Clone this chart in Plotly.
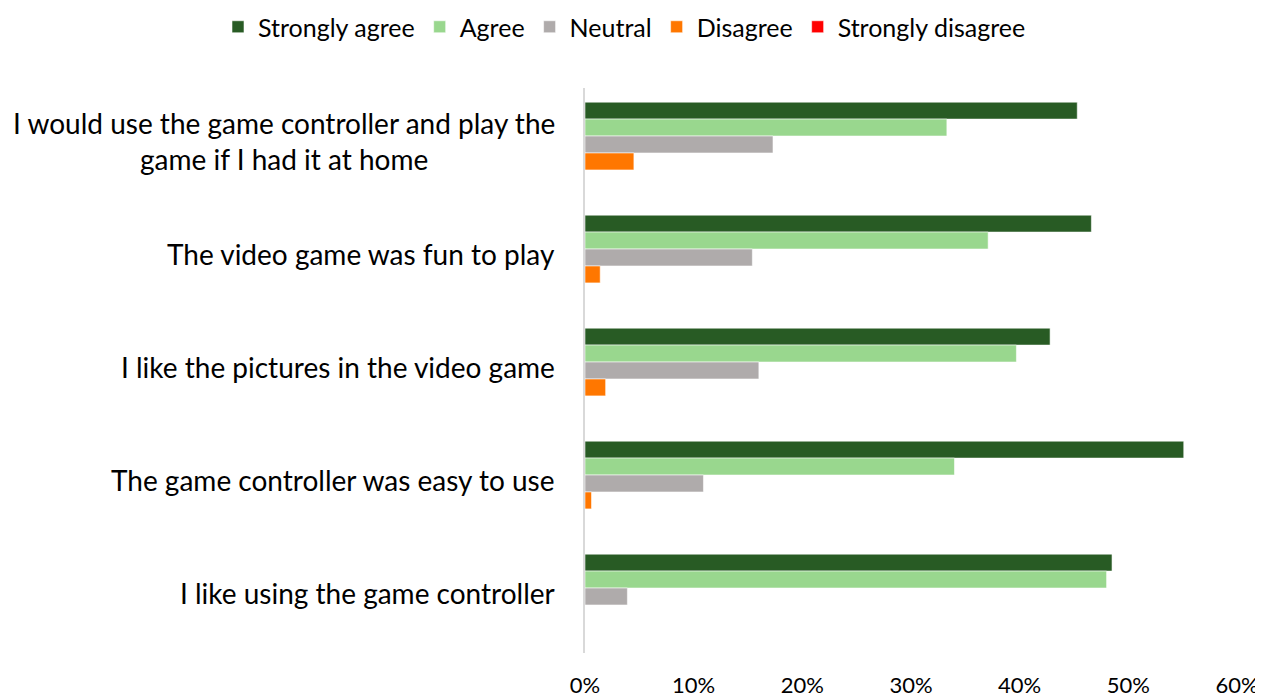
import plotly.graph_objects as go

categories = [
    "I would use the game controller and play the<br>game if I had it at home",
    "The video game was fun to play",
    "I like the pictures in the video game",
    "The game controller was easy to use",
    "I like using the game controller",
]
series_names = ["Strongly agree", "Agree", "Neutral", "Disagree", "Strongly disagree"]
strongly_agree = [45.3, 46.6, 42.8, 55.1, 48.5]
agree = [33.3, 37.1, 39.7, 34.0, 48.0]
neutral = [17.3, 15.4, 16.0, 10.9, 3.9]
disagree = [4.5, 1.4, 1.9, 0.6, 0.0]
strongly_disagree = [0.0, 0.0, 0.0, 0.0, 0.0]
colors = ["#285B24", "#99D78E", "#AFABAB", "#FF7700", "#FF0000"]
x_ticks = [0, 10, 20, 30, 40, 50, 60]

FONT = "Lato"
W, H = 1255, 689
L, R, T, B = 577, 26, 80, 44
PW, PH = W - L - R, H - T - B

fig = go.Figure()
for name, vals, col in zip(series_names,
                           [strongly_agree, agree, neutral, disagree, strongly_disagree],
                           colors):
    fig.add_trace(go.Bar(
        name=name, y=categories, x=vals, orientation="h",
        marker=dict(color=col, line=dict(color="rgba(255,255,255,0.7)", width=0.8)),
    ))

for c in categories:
    fig.add_annotation(
        x=0, xref="paper", y=c, yref="y", xanchor="right", yanchor="middle",
        xshift=-28, yshift=4, text=c, showarrow=False, align="center",
        font=dict(family=FONT, size=28, color="#000000"),
    )

fig.update_layout(
    barmode="group",
    bargap=0.25,
    bargroupgap=0,
    width=W, height=H,
    margin=dict(l=L, r=R, t=T, b=B, autoexpand=False),
    paper_bgcolor="white", plot_bgcolor="white",
    font=dict(family=FONT, size=22, color="#000000"),
    legend=dict(
        orientation="h", xref="paper", yref="paper",
        x=(210 - L) / PW, xanchor="left", y=1 + (T + 4) / PH, yanchor="top",
        font=dict(family=FONT, size=25, color="#000000"),
        traceorder="normal", bgcolor="rgba(0,0,0,0)",
    ),
    showlegend=True,
)
fig.update_xaxes(
    range=[0, 60], tickvals=x_ticks, ticktext=[f"{v}%" for v in x_ticks],
    showgrid=False, zeroline=False, showline=False, automargin=False,
    ticks="outside", ticklen=13, tickcolor="rgba(0,0,0,0)",
    tickfont=dict(family=FONT, size=22, color="#000000"),
)
fig.update_yaxes(
    autorange="reversed", showticklabels=False, automargin=False,
    showline=True, linecolor="#D9D9D9", linewidth=2,
    showgrid=False, zeroline=False,
)

fig.write_html("out.html")
